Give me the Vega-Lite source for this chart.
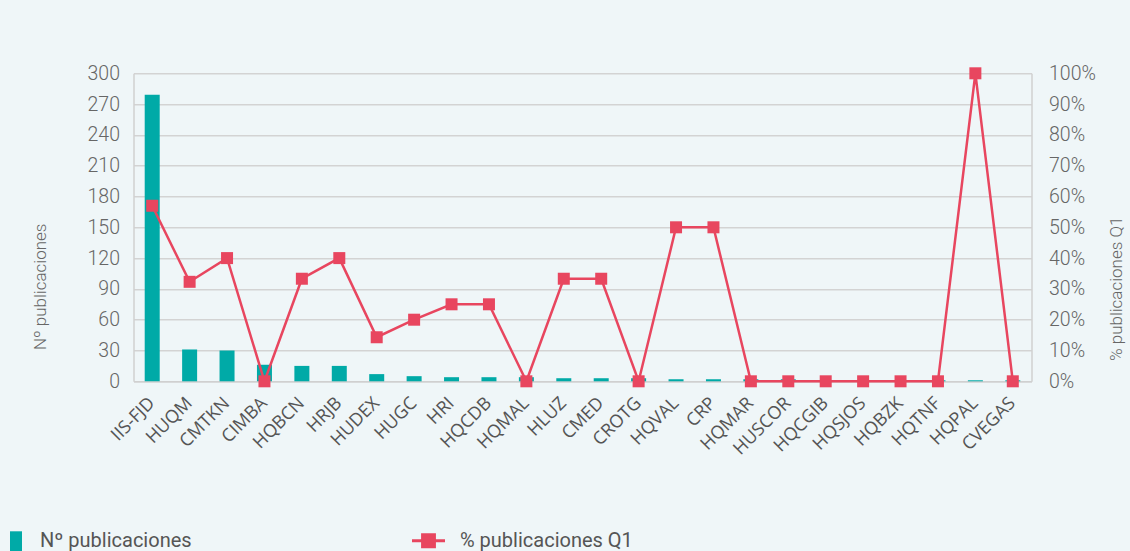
{
  "$schema": "https://vega.github.io/schema/vega-lite/v6.json",
  "autosize": {"type": "none"},
  "width": 898,
  "height": 308,
  "padding": {"left": 133.5, "top": 73.3, "right": 98.5, "bottom": 169.7},
  "background": "#eff6f8",
  "config": {
    "view": {"stroke": null},
    "axis": {"labelColor": "#666666", "titleColor": "#666666", "domainColor": "#d0d0d0", "gridColor": "#d3d3d3", "ticks": false}
  },
  "data": {
    "values": [
      {"centro": "IIS-FJD", "n": 279, "pct": 57},
      {"centro": "HUQM", "n": 31, "pct": 32.3},
      {"centro": "CMTKN", "n": 30, "pct": 40},
      {"centro": "CIMBA", "n": 16, "pct": 0},
      {"centro": "HQBCN", "n": 15, "pct": 33.3},
      {"centro": "HRJB", "n": 15, "pct": 40},
      {"centro": "HUDEX", "n": 7, "pct": 14.3},
      {"centro": "HUGC", "n": 5, "pct": 20},
      {"centro": "HRI", "n": 4, "pct": 25},
      {"centro": "HQCDB", "n": 4, "pct": 25},
      {"centro": "HQMAL", "n": 4, "pct": 0},
      {"centro": "HLUZ", "n": 3, "pct": 33.3},
      {"centro": "CMED", "n": 3, "pct": 33.3},
      {"centro": "CROTG", "n": 3, "pct": 0},
      {"centro": "HQVAL", "n": 2, "pct": 50},
      {"centro": "CRP", "n": 2, "pct": 50},
      {"centro": "HQMAR", "n": 2, "pct": 0},
      {"centro": "HUSCOR", "n": 2, "pct": 0},
      {"centro": "HQCGIB", "n": 1, "pct": 0},
      {"centro": "HQSJOS", "n": 1, "pct": 0},
      {"centro": "HQBZK", "n": 1, "pct": 0},
      {"centro": "HQTNF", "n": 1, "pct": 0},
      {"centro": "HQPAL", "n": 1, "pct": 100},
      {"centro": "CVEGAS", "n": 1, "pct": 0}
    ]
  },
  "encoding": {
    "x": {
      "field": "centro",
      "type": "nominal",
      "sort": null,
      "scale": {"paddingInner": 0, "paddingOuter": 0},
      "axis": {
        "title": null,
        "labelAngle": -45,
        "labelAlign": "right",
        "labelBaseline": "middle",
        "labelPadding": 19,
        "labelFont": "Open Sans",
        "labelFontSize": 18,
        "labelColor": "#555555",
        "domainColor": "#d0d0d0",
        "domainWidth": 1.5,
        "grid": false
      }
    }
  },
  "layer": [
    {
      "mark": {"type": "bar", "width": 15, "color": "#00aaa7"},
      "encoding": {
        "y": {
          "field": "n",
          "type": "quantitative",
          "scale": {"domain": [0, 300], "nice": false},
          "axis": {
            "title": "Nº publicaciones",
            "values": [0, 30, 60, 90, 120, 150, 180, 210, 240, 270, 300],
            "labelFont": "Roboto",
            "labelFontWeight": 300,
            "labelFontSize": 19.5,
            "labelPadding": 14,
            "titleFont": "Roboto",
            "titleFontSize": 17,
            "titleFontWeight": 300,
            "titleAngle": -90,
            "titleBaseline": "alphabetic",
            "titleX": -88,
            "titleY": 213,
            "grid": true,
            "gridWidth": 1.5,
            "domain": true,
            "domainWidth": 1.5
          }
        },
        "fill": {
          "datum": "Nº publicaciones",
          "scale": {"range": ["#00aaa7"]},
          "legend": {
            "title": null,
            "orient": "none",
            "legendX": -127.5,
            "legendY": 458,
            "symbolType": "M-0.6,-1H0.6V1H-0.6Z",
            "symbolSize": 400,
            "symbolStrokeWidth": 0,
            "labelOffset": 14,
            "labelLimit": 400,
            "labelFont": "Roboto",
            "labelFontSize": 20,
            "labelColor": "#555555",
            "padding": 0
          }
        }
      }
    },
    {
      "mark": {"type": "line", "color": "#e8465f", "strokeWidth": 2.5},
      "encoding": {
        "y": {
          "field": "pct",
          "type": "quantitative",
          "scale": {"domain": [0, 100], "nice": false},
          "axis": {
            "orient": "right",
            "title": "% publicaciones Q1",
            "values": [0, 10, 20, 30, 40, 50, 60, 70, 80, 90, 100],
            "labelExpr": "datum.value + '%'",
            "labelFont": "Roboto",
            "labelFontWeight": 300,
            "labelFontSize": 19.5,
            "labelPadding": 17,
            "titleFont": "Roboto",
            "titleFontSize": 17,
            "titleFontWeight": 300,
            "titleAngle": -90,
            "titleBaseline": "alphabetic",
            "titleX": 90,
            "titleY": 215,
            "grid": false,
            "domain": true,
            "domainWidth": 1.5
          }
        },
        "stroke": {
          "datum": "% publicaciones Q1",
          "scale": {"range": ["#e8465f"]},
          "legend": {
            "title": null,
            "orient": "none",
            "legendX": 278.5,
            "legendY": 451,
            "symbolType": "M-1,-0.09H1V0.09H-1Z M-0.45,-0.45H0.45V0.45H-0.45Z",
            "symbolSize": 1089,
            "symbolFillColor": "#e8465f",
            "symbolStrokeWidth": 0,
            "labelOffset": 15,
            "labelLimit": 400,
            "labelFont": "Roboto",
            "labelFontSize": 20,
            "labelColor": "#555555",
            "padding": 0
          }
        }
      }
    },
    {
      "mark": {"type": "point", "shape": "square", "filled": true, "size": 144, "color": "#e8465f", "opacity": 1},
      "encoding": {
        "y": {"field": "pct", "type": "quantitative", "scale": {"domain": [0, 100], "nice": false}, "axis": null}
      }
    }
  ],
  "resolve": {"scale": {"y": "independent", "fill": "independent", "stroke": "independent"}}
}
